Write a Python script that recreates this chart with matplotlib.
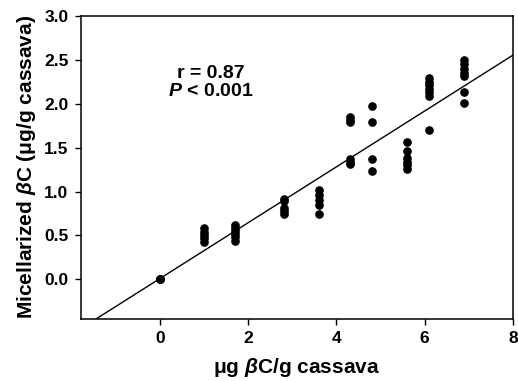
import numpy as np
import matplotlib
matplotlib.use("Agg")
import matplotlib.pyplot as plt

plt.rcParams['font.family'] = ['Liberation Sans', 'DejaVu Sans']
plt.rcParams['font.weight'] = 'bold'
plt.rcParams['axes.labelweight'] = 'bold'
plt.rcParams['mathtext.fontset'] = 'custom'
plt.rcParams['mathtext.rm'] = 'Liberation Sans:bold'
plt.rcParams['mathtext.it'] = 'Liberation Sans:italic:bold'
plt.rcParams['mathtext.bf'] = 'Liberation Sans:bold'

# beta-carotene in cassava (ug/g) and micellarized amount
x_0 = [0.0, 0.0, 0.0]
y_0 = [0.0, 0.0, 0.0]
x_1 = [1.0] * 5
y_1 = [0.58, 0.54, 0.50, 0.47, 0.43]
x_17 = [1.7] * 6
y_17 = [0.62, 0.58, 0.55, 0.52, 0.48, 0.44]
x_28 = [2.8] * 5
y_28 = [0.92, 0.89, 0.81, 0.78, 0.75]
x_36 = [3.6] * 5
y_36 = [1.02, 0.96, 0.90, 0.85, 0.75]
x_43 = [4.3] * 6
y_43 = [1.85, 1.82, 1.79, 1.37, 1.34, 1.31]
x_48 = [4.8] * 4
y_48 = [1.98, 1.79, 1.37, 1.24]
x_56 = [5.6] * 6
y_56 = [1.56, 1.46, 1.38, 1.34, 1.30, 1.26]
x_61 = [6.1] * 7
y_61 = [2.29, 2.25, 2.21, 2.17, 2.13, 2.09, 1.70]
x_69 = [6.9] * 7
y_69 = [2.50, 2.45, 2.40, 2.35, 2.32, 2.13, 2.01]

cassava = np.array(x_0 + x_1 + x_17 + x_28 + x_36 + x_43 + x_48 + x_56 + x_61 + x_69)
micellar = np.array(y_0 + y_1 + y_17 + y_28 + y_36 + y_43 + y_48 + y_56 + y_61 + y_69)

# regression line
slope, intercept = np.polyfit(cassava, micellar, 1)

fig = plt.figure(figsize=(5.18, 3.81), dpi=100)
ax = fig.add_axes([0.156, 0.163, 0.834, 0.795])

ax.plot(cassava, micellar, 'o', color='black', ms=5.2)
xfit = np.array([-1.8, 8.0])
ax.plot(xfit, intercept + slope * xfit, color='black', lw=1.0)

ax.set_xlim(-1.8, 8)
ax.set_ylim(-0.45, 3.0)
ax.set_xticks([0, 2, 4, 6, 8])
ax.set_yticks([0.0, 0.5, 1.0, 1.5, 2.0, 2.5, 3.0])
ax.set_yticklabels(['0.0', '0.5', '1.0', '1.5', '2.0', '2.5', '3.0'])
ax.tick_params(direction='out', length=4, width=1, labelsize=12.5, pad=5,
               top=False, right=False)
for sp in ax.spines.values():
    sp.set_linewidth(1.1)

ax.set_xlabel(r'μg $\beta$C/g cassava', fontsize=15, labelpad=7)
ax.set_ylabel(r'Micellarized $\beta$C (μg/g cassava)', fontsize=15, labelpad=4)

# correlation stats, two lines set tight like the original
ax.text(1.15, 2.35, 'r = 0.87', ha='center', va='center', fontsize=14)
ax.text(1.15, 2.14, r'$P$ < 0.001', ha='center', va='center', fontsize=14)

fig.savefig('out.png', dpi=100)
